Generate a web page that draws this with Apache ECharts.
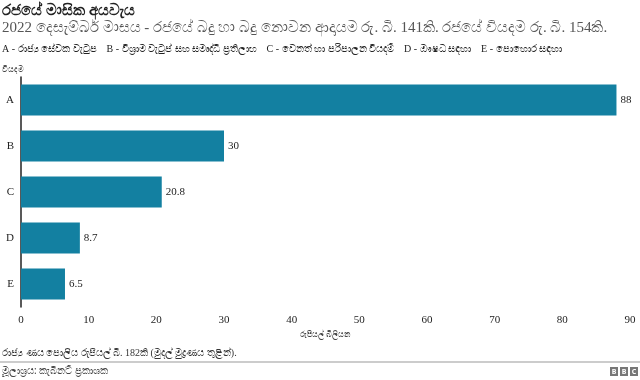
<!DOCTYPE html>
<html><head><meta charset="utf-8">
<script src="https://cdn.jsdelivr.net/npm/echarts@6/dist/echarts.min.js"></script>
<style>html,body{margin:0;padding:0;background:#fff}#c{width:640px;height:380px}</style>
</head><body><div id="c"></div>
<script>
const categories = ['A','B','C','D','E'];
const values = [88, 30, 20.8, 8.7, 6.5];
const xTicks = [0,10,20,30,40,50,60,70,80,90];
const titleText = 'රජයේ මාසික අයවැය';
const subtitleText = '2022 දෙසැම්බර් මාසය - රජයේ බදු හා බදු නොවන ආදායම රු. බි. 141කි. රජයේ වියදම රු. බි. 154කි.';
const keyText = 'A - රාජ්‍ය සේවක වැටුප    B - විශ්‍රාම වැටුප් සහ සමෘද්ධි ප්‍රතිලාභ    C - වෙනත් හා පරිපාලන වියදම්    D - ඖෂධ සඳහා    E - පොහොර සඳහා';
const yName = 'වියදම';
const xName = 'රුපියල් බිලියන';
const noteText = 'රාජ්‍ය ණය පොලිය රුපියල් බි. 182කි (මුදල් මුද්‍රණය තුළින්).';
const sourceText = 'මූලාශ්‍රය: කැබිනට් ප්‍රකාශක';

const serif = '"Liberation Serif","DejaVu Serif","Noto Sans",serif';
const sans = '"Noto Sans","DejaVu Sans",sans-serif';
const chart = echarts.init(document.getElementById('c'), null, {renderer:'canvas'});
chart.setOption({
  animation:false,
  grid:{left:21, right:10, top:77, height:230},
  xAxis:{
    type:'value', min:0, max:90, interval:10,
    axisLine:{show:false}, axisTick:{show:false}, splitLine:{show:false},
    axisLabel:{color:'#222', fontFamily:serif, fontSize:11, margin:8,
      formatter:v=>xTicks.includes(v)?String(v):''},
    name:xName, nameLocation:'middle', nameGap:22,
    nameTextStyle:{color:'#444', fontSize:8, fontFamily:sans}
  },
  yAxis:{
    type:'category', data:categories, inverse:true,
    axisLine:{show:true, lineStyle:{color:'#222', width:1.5}},
    axisTick:{show:false},
    axisLabel:{color:'#222', fontFamily:serif, fontSize:11, margin:7}
  },
  series:[{
    type:'bar', data:values, barCategoryGap:'33%',
    itemStyle:{color:'#1380A1'},
    label:{show:true, position:'right', distance:4, color:'#222', fontFamily:serif, fontSize:11}
  }],
  graphic:[
    {type:'text', left:2, top:3, style:{text:titleText, font:'bold 15px '+sans, fill:'#222'}},
    {type:'text', left:2, top:21, style:{text:subtitleText, font:'15px '+serif, fill:'#555'}},
    {type:'text', left:2, top:44, style:{text:keyText, font:'10px '+serif, fill:'#222'}},
    {type:'text', left:2, top:66, style:{text:yName, font:'8px '+sans, fill:'#444'}},
    {type:'text', left:2, top:348, style:{text:noteText, font:'10px '+serif, fill:'#333'}},
    {type:'rect', shape:{x:0, y:361, width:640, height:2}, style:{fill:'#ccc'}},
    {type:'text', left:2, top:366, style:{text:sourceText, font:'10px '+sans, fill:'#444'}},
    {type:'group', left:610, top:367, children:[
      {type:'rect', shape:{x:0,y:0,width:8,height:9}, style:{fill:'#777'}},
      {type:'rect', shape:{x:10,y:0,width:8,height:9}, style:{fill:'#777'}},
      {type:'rect', shape:{x:20,y:0,width:8,height:9}, style:{fill:'#777'}},
      {type:'text', style:{x:4,y:5,text:'B',font:'bold 7px '+sans,fill:'#fff',align:'center',verticalAlign:'middle'}},
      {type:'text', style:{x:14,y:5,text:'B',font:'bold 7px '+sans,fill:'#fff',align:'center',verticalAlign:'middle'}},
      {type:'text', style:{x:24,y:5,text:'C',font:'bold 7px '+sans,fill:'#fff',align:'center',verticalAlign:'middle'}}
    ]}
  ]
});
</script></body></html>
